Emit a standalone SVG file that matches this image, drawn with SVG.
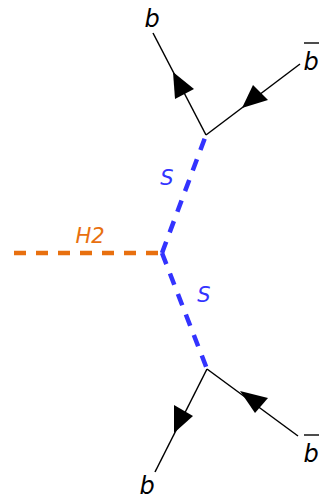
<svg xmlns="http://www.w3.org/2000/svg" width="320" height="501" viewBox="0 0 320 501">
<style>
.f{stroke:#000;stroke-width:1.5;fill:none}
.a{fill:#000;stroke:none}
.s{stroke:#3333ff;stroke-width:4.5;stroke-dasharray:12 10;fill:none}
.h{stroke:#e8700f;stroke-width:4.5;stroke-dasharray:12 10;fill:none}
text{font-family:"DejaVu Sans",sans-serif;font-style:italic;font-size:24px}
.lb{fill:#3333ff;font-size:21px}
.lh{fill:#e8700f;font-size:21px}
</style>
<g id="connectors">
<line class="h" x1="14" y1="253" x2="162" y2="253"/>
<line class="s" x1="162" y1="253" x2="206" y2="135"/>
<line class="s" x1="162" y1="253" x2="207" y2="369"/>
<line class="f" x1="206" y1="135" x2="153" y2="33"/>
<line class="f" x1="206" y1="135" x2="300" y2="64"/>
<line class="f" x1="207" y1="369" x2="155" y2="472"/>
<line class="f" x1="207" y1="369" x2="298" y2="436"/>
<polygon class="a" points="173,72 175,99 194,89"/>
<polygon class="a" points="242,108 253,85 268,100"/>
<polygon class="a" points="174,433 174,405 193,416"/>
<polygon class="a" points="240,391 255,413 268,398"/>
</g>
<g id="b-top"><text x="152" y="27" text-anchor="middle">b</text></g>
<g id="bbar-top"><text x="311" y="70" text-anchor="middle">b</text><line x1="304" y1="43" x2="319" y2="43" stroke="#000" stroke-width="1.4"/></g>
<g id="b-bottom"><text x="147" y="494" text-anchor="middle">b</text></g>
<g id="bbar-bottom"><text x="311" y="462" text-anchor="middle">b</text><line x1="304" y1="435" x2="319" y2="435" stroke="#000" stroke-width="1.4"/></g>
<g id="label-s1"><text class="lb" x="167" y="185" text-anchor="middle">S</text></g>
<g id="label-s2"><text class="lb" x="204" y="302" text-anchor="middle">S</text></g>
<g id="label-h2"><text class="lh" x="90" y="243" text-anchor="middle">H2</text></g>
</svg>
